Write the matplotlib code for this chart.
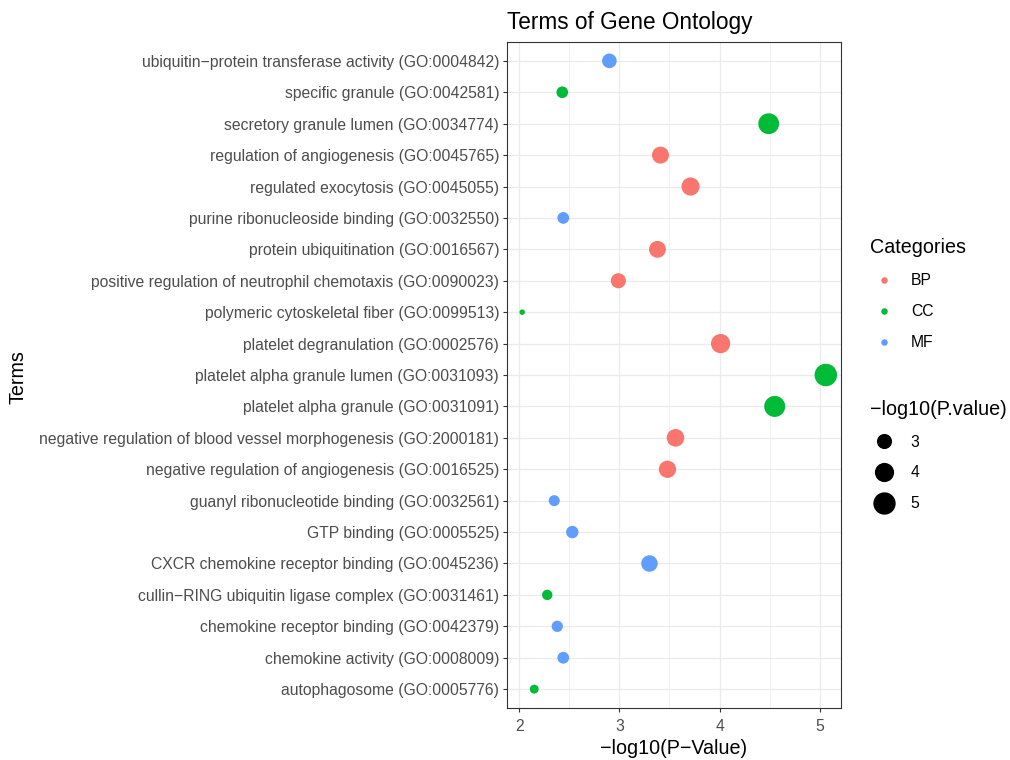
import matplotlib
matplotlib.use("Agg")
import matplotlib.pyplot as plt
from matplotlib.lines import Line2D
import numpy as np

plt.rcParams['font.family'] = ['Liberation Sans', 'DejaVu Sans']

terms = [
    "ubiquitin\u2212protein transferase activity (GO:0004842)",
    "specific granule (GO:0042581)",
    "secretory granule lumen (GO:0034774)",
    "regulation of angiogenesis (GO:0045765)",
    "regulated exocytosis (GO:0045055)",
    "purine ribonucleoside binding (GO:0032550)",
    "protein ubiquitination (GO:0016567)",
    "positive regulation of neutrophil chemotaxis (GO:0090023)",
    "polymeric cytoskeletal fiber (GO:0099513)",
    "platelet degranulation (GO:0002576)",
    "platelet alpha granule lumen (GO:0031093)",
    "platelet alpha granule (GO:0031091)",
    "negative regulation of blood vessel morphogenesis (GO:2000181)",
    "negative regulation of angiogenesis (GO:0016525)",
    "guanyl ribonucleotide binding (GO:0032561)",
    "GTP binding (GO:0005525)",
    "CXCR chemokine receptor binding (GO:0045236)",
    "cullin\u2212RING ubiquitin ligase complex (GO:0031461)",
    "chemokine receptor binding (GO:0042379)",
    "chemokine activity (GO:0008009)",
    "autophagosome (GO:0005776)",
]
neglog_p = [2.90, 2.43, 4.49, 3.41, 3.71, 2.44, 3.38, 2.99, 2.03, 4.01, 5.06,
            4.55, 3.56, 3.48, 2.35, 2.53, 3.30, 2.28, 2.38, 2.44, 2.15]
categories = ["MF", "CC", "CC", "BP", "BP", "MF", "BP", "BP", "CC", "BP", "CC",
              "CC", "BP", "BP", "MF", "MF", "MF", "CC", "MF", "MF", "CC"]
cat_levels = ["BP", "CC", "MF"]
size_breaks = [3, 4, 5]

colors = {"BP": "#F8766D", "CC": "#00BA38", "MF": "#619CFF"}

DPI = 100
vals = np.array(neglog_p)
vmin, vmax = vals.min(), vals.max()

def diam_px(v):
    r = np.clip((np.asarray(v, float) - vmin) / (vmax - vmin), 0, 1)
    return 5.5 + 17 * np.sqrt(r)

def area_pt2(v):
    return (diam_px(v) * 72.0 / DPI) ** 2

TICK_FS = 11.3
TITLE_FS = 16.3
LAB_FS = 14.2
LEG_T_FS = 14.2

fig = plt.figure(figsize=(10.1, 7.6), dpi=DPI)
ax = fig.add_axes([507/1010, 1 - 708/760, (841-507)/1010, (708-42)/760])

ax.scatter(vals, terms, s=area_pt2(vals), c=[colors[c] for c in categories],
           edgecolors='none', zorder=3)
ax.set_ylim(len(terms) - 1 + 0.6, -0.6)
rng = vmax - vmin
ax.set_xlim(vmin - 0.05 * rng, vmax + 0.05 * rng)
ax.set_xticks([2, 3, 4, 5])
ax.set_xticks([2.5, 3.5, 4.5], minor=True)

ax.grid(True, which='major', color='#EBEBEB', linewidth=0.9, zorder=0)
ax.grid(True, which='minor', axis='x', color='#EBEBEB', linewidth=0.5, zorder=0)
ax.set_axisbelow(True)
for sp in ax.spines.values():
    sp.set_color('#333333')
    sp.set_linewidth(0.8)
ax.tick_params(which='major', length=3.2, width=0.8, color='#333333',
               labelcolor='#4D4D4D', labelsize=TICK_FS, pad=2.5)
ax.tick_params(axis='x', which='major', pad=5)
ax.tick_params(which='minor', length=0)

ax.set_title("Terms of Gene Ontology", fontsize=TITLE_FS, color='black',
             loc='left', pad=9)
ax.set_xlabel("\u2212log10(P\u2212Value)", fontsize=LAB_FS, labelpad=3)
fig.text(18/1010, 1 - 377/760, "Terms", rotation=90, fontsize=LAB_FS,
         ha='center', va='center')

# Legend 1: categories
h1 = [Line2D([], [], linestyle='none', marker='o', markersize=6.5 * 0.72,
             markerfacecolor=colors[c], markeredgecolor='none', label=c)
      for c in cat_levels]
leg1 = fig.legend(handles=h1, title="Categories", loc='upper left',
                  bbox_to_anchor=(870/1010, 1 - 238/760), frameon=False,
                  fontsize=TICK_FS, title_fontsize=LEG_T_FS, labelspacing=1.02,
                  handlelength=1.8, handletextpad=0.8, borderpad=0,
                  borderaxespad=0)
leg1._legend_box.align = 'left'
leg1._legend_box._children[0].set_offset if False else None

# Legend 2: sizes
h2 = [Line2D([], [], linestyle='none', marker='o',
             markersize=float(diam_px(b)) * 72.0 / DPI,
             markerfacecolor='black', markeredgecolor='none', label=str(b))
      for b in size_breaks]
leg2 = fig.legend(handles=h2, title="\u2212log10(P.value)", loc='upper left',
                  bbox_to_anchor=(870/1010, 1 - 400/760), frameon=False,
                  fontsize=TICK_FS, title_fontsize=LEG_T_FS, labelspacing=1.0,
                  handlelength=1.8, handletextpad=0.8, borderpad=0,
                  borderaxespad=0)
leg2._legend_box.align = 'left'

fig.savefig("out.png", dpi=DPI)
